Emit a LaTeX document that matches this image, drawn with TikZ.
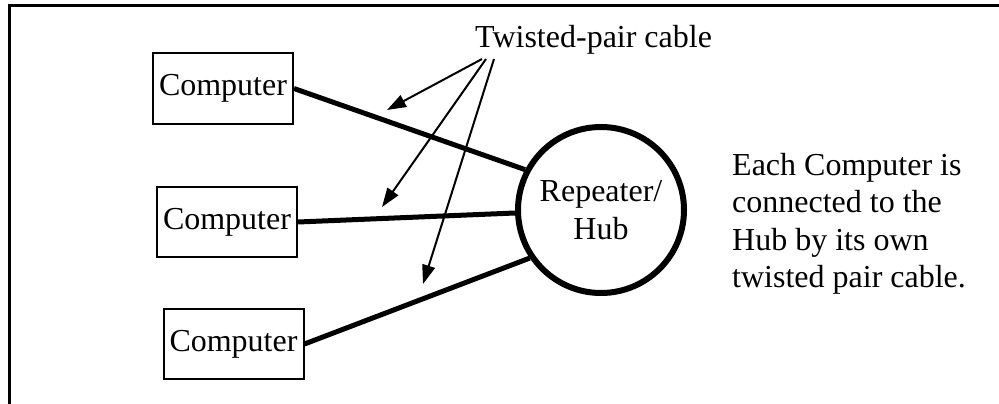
\documentclass[tikz,border=0pt]{standalone}
\usepackage{fontspec}
\setmainfont{Liberation Serif}
\usetikzlibrary{arrows.meta,positioning,calc}

\begin{document}
\begin{tikzpicture}[
  x=1pt, y=-1pt,
  font=\fontsize{32}{37.5}\selectfont,
  pcbox/.style={draw, line width=2pt, minimum width=140pt, minimum height=70pt, inner sep=0pt},
  hubnode/.style={draw, circle, line width=6pt, minimum size=166pt, inner sep=0pt, align=center},
  cable/.style={line width=5pt},
  pointer/.style={-{Triangle[length=19pt,width=13pt]}, line width=2pt}
]
\useasboundingbox (0,0) rectangle (999,404);
% open frame, left and top only
\draw[line width=3pt] (9,404) |- (999,6);
\node[pcbox] (pc1) at (223,88.5) {Computer};
\node[pcbox] (pc2) at (227,222) {Computer};
\node[pcbox] (pc3) at (233.5,344) {Computer};
\node[hubnode] (hub) at (601,210) {Repeater/\\Hub};
\node[align=left, inner sep=0pt, right=45pt of hub, yshift=-14pt] (note) {Each Computer is\\connected to the\\Hub by its own\\twisted pair cable.};
\node[inner sep=0pt, anchor=base west] (label) at (475,48) {Twisted-pair cable};
\draw[cable] (pc1.east) -- (hub.152);
\draw[cable] (pc2.east) -- (hub.182);
\draw[cable] (pc3.east) -- (hub.214);
% arrow tips on the cables
\coordinate (tip1) at (387,110);
\coordinate (tip2) at (382,207);
\coordinate (tip3) at (423,284);
\draw[pointer] ($(label.south west)+(7,4)$) -- (tip1);
\draw[pointer] ($(label.south west)+(11,4)$) -- (tip2);
\draw[pointer] ($(label.south west)+(19,4)$) -- (tip3);
\end{tikzpicture}
\end{document}
